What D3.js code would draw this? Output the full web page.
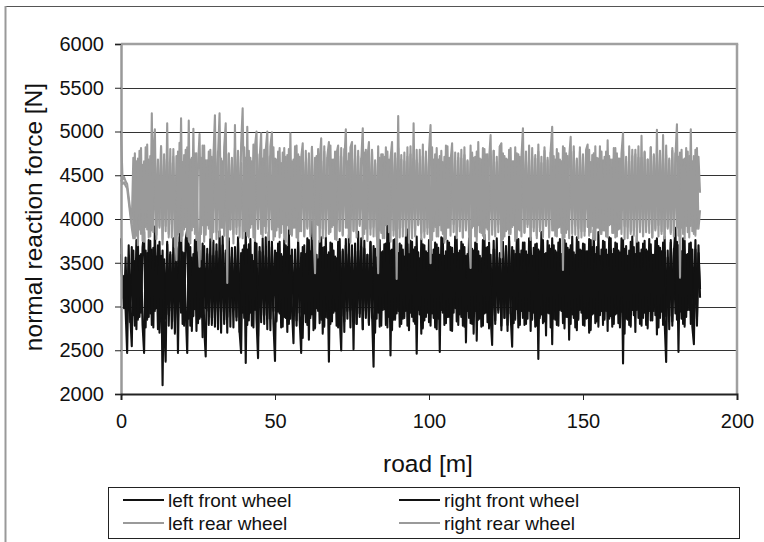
<!DOCTYPE html>
<html>
<head>
<meta charset="utf-8">
<script src="https://cdn.jsdelivr.net/npm/d3@7"></script>
<style>
  body { margin: 0; background: #fff; }
  svg { display: block; font-family: "Liberation Sans", Arial, sans-serif; }
</style>
</head>
<body>
<div id="chart"></div>
<script>
// --- Data (one sample every 0.5 m) ---
const sampleStep = 0.5; // road distance between samples [m]

const leftFront = [
  3780,3100,3350,2950,2470,3560,2820,3680,2900,3520,2740,3720,2880,3600,2790,2470,3640,2850,3760,2920,
  3650,2760,3913,2980,3700,2700,3580,2100,3540,2860,3740,2780,3620,2950,3500,2690,3680,2840,3790,3920,
  2800,3610,2960,2470,3720,2780,3560,2890,3760,2720,3620,2860,3520,2650,3690,2980,3600,2790,3770,2870,
  3580,2770,3710,2940,3550,2700,3800,2850,3640,2700,3740,2990,3570,2760,3680,2880,3790,2710,3610,2930,
  3700,2354,3650,2840,3770,2780,3520,2960,3720,2660,3630,2820,3780,2900,3580,2740,3850,2860,3680,2800,
  2377,3610,2940,3740,2760,3570,2880,3700,2710,3880,2860,3650,2970,3540,2780,3750,2850,2470,3680,2920,
  3600,2790,3760,2870,3970,2730,3640,2980,3540,2810,3790,2690,3680,2880,3590,2370,3730,2830,3640,2950,
  3550,2760,3770,2890,3630,2710,3700,2860,3820,2960,3570,2510,3720,2800,3640,2880,3780,2740,3660,2950,
  3590,2790,3740,2870,3690,2700,3560,2930,3760,2780,3630,2970,3720,2760,3860,2440,3650,2850,3770,2920,
  3610,2770,3700,2860,3570,2950,3880,2730,3750,2880,3650,2800,3800,2960,3550,2690,3710,2840,3630,2930,
  3760,2780,3590,2870,3730,2740,3670,2480,3790,2930,3580,2810,3750,2880,3680,2720,3600,2980,3770,2790,
  3640,2880,3710,2770,3580,2950,3780,2810,3660,2690,3730,2610,3630,2860,3550,2780,3820,2930,3680,2750,
  3590,2900,3750,2800,3650,2960,3560,2730,3740,2870,3690,2790,3800,2900,2540,3640,2850,3770,2760,3600,
  2950,3730,2790,3630,2860,3780,2720,3580,2930,3710,2780,3650,2870,3850,2810,3600,2670,3750,2920,3660,
  2570,3700,2850,3620,2780,3770,2950,3570,2750,3720,2880,3650,2800,3800,2870,3590,2730,3740,2960,3640,
  2790,3710,2860,3630,2700,3760,2910,3874,2810,3680,2770,3580,2950,3750,2850,3650,2720,3790,2890,3600,
  2800,3730,2920,3640,2760,3780,2350,3660,2860,3580,2790,3740,2960,3680,2710,3810,2870,3610,2780,3720,
  2930,3650,2750,3770,2840,3590,2950,3750,2680,3690,2870,3630,2790,3800,2890,3560,2740,3730,2830,3660,
  2920,3740,2480,3640,2860,3780,2770,3590,2960,3720,2800,3650,2880,3760,2780,3610,3200
];

const rightFront = [
  3600,3200,2980,3560,2820,3700,2900,2545,3640,2780,3760,2850,3580,2930,3680,3855,2760,3610,2880,3750,
  2790,3670,2950,3570,2740,3740,2870,3640,2800,2370,3710,2910,3590,2750,3780,2830,3660,2470,3730,2930,
  3620,2780,3760,3880,2860,3680,2720,3600,2970,3770,2810,3640,2880,3720,2760,2430,3660,2950,3580,2790,
  3750,2870,3630,2740,3860,2940,3700,2800,3610,2880,3780,2770,3670,2960,3560,2840,3730,2710,2470,3650,
  2870,3860,2790,3710,2930,3590,2760,3760,2850,2410,3680,2900,3620,2800,3790,2860,3560,2730,3740,2950,
  3640,2830,3720,2920,3600,2770,3770,2870,3680,2800,3580,2980,2580,3650,2840,3730,2930,3610,2640,3700,
  2820,3780,2620,3630,2910,3710,2750,3590,2950,3750,2850,3670,2770,3790,2870,3620,2800,3720,2930,3570,
  2780,3740,2880,2497,3650,2830,3770,2950,3600,2760,3700,2860,3630,2800,3855,2920,3680,2740,3750,2870,
  3590,2810,3730,2930,2312,3660,2860,3780,2770,3620,2960,3710,2790,3940,2880,3640,2730,3760,2850,3580,
  2950,3720,2800,3650,2870,3800,2780,3600,2930,3740,2830,3680,2460,3620,2910,3770,2750,3700,2880,3610,
  2820,3750,2920,3650,2760,3710,2860,3590,2960,3780,2790,3630,2880,3730,2730,3670,2930,3800,2830,3610,
  2910,3740,2780,3680,2590,3600,2870,3790,2800,3640,2950,3720,2850,3580,2770,3760,2920,3670,2820,3730,
  2880,2560,3650,2840,3780,2930,3610,2780,3710,2870,3630,2720,3750,2920,3680,2810,3600,2970,3770,2790,
  3640,2870,3730,2800,3590,2950,3790,2850,3670,2770,3720,2400,3630,2910,3760,2830,3610,2930,3700,2760,
  3780,2860,3640,2790,3730,2960,3600,2810,3760,2880,3670,2620,3700,2910,3620,2760,3790,2850,3650,2930,
  3720,2780,3630,2870,3770,2730,3680,2920,3600,2830,3850,2900,3650,2790,3740,2950,3590,2860,3780,2770,
  3660,2910,3720,2810,3620,2940,3760,2690,3690,2850,3640,2770,3800,2900,3600,2960,3730,2800,3650,2870,
  3750,2790,3630,2950,3710,2840,3590,2900,3780,2760,3670,2940,3730,2830,2365,3640,2890,3760,2780,3610,
  3900,2850,3700,2940,3630,2800,3750,2880,3600,2960,3730,2770,2570,3650,2860,3700,3100
];

const leftRear = [
  5000,4450,4480,4430,4400,4250,4100,3950,4700,3780,4660,3700,4780,3830,4620,3740,4820,3880,4680,3800,
  5208,3850,4760,3770,4600,3920,4830,3710,4680,3860,5094,3790,4640,3940,4800,3680,4720,3820,4870,3750,
  4650,3880,4790,3800,5124,3720,4700,3910,4750,3760,4610,4970,3830,4840,3740,4670,3930,4770,3790,4710,
  3850,4830,3770,4730,5208,3900,4660,3810,4810,3270,4750,3880,4700,3720,5075,3830,4780,3920,4640,3780,
  4820,3860,5055,3790,4700,3940,4850,3750,4740,3890,4680,4980,3800,4790,3840,4710,3910,4830,4990,3760,
  4690,3870,4770,3790,4640,3940,4810,3730,4730,3890,4980,3810,4680,3900,4840,3750,4710,3860,4780,3800,
  4650,3910,4750,3830,4825,3770,4700,3940,4800,3740,4660,3890,4830,3800,4720,4880,3850,4680,3930,4770,
  3760,4720,3870,4810,3820,4650,5025,3900,4750,3730,4690,3860,4840,3790,4720,3940,4670,5037,3830,4790,
  3750,4700,3890,4770,3800,4640,3920,3380,4700,3840,4740,3780,4820,3940,4680,3740,4760,3870,4700,3820,
  5177,3790,4730,3900,4660,3810,4820,3730,4740,3890,4690,3800,4790,3940,4640,3770,4850,3860,4710,3830,
  4770,5075,3760,4680,3910,4810,3800,4720,3870,4650,3730,4840,3900,4700,3810,4780,3940,4670,3780,4750,
  3860,4690,3790,4820,3890,4660,3830,3440,4760,3920,4710,3750,4880,3850,4680,3810,4800,3900,4740,3760,
  4700,3870,4780,3800,4650,3940,4830,4865,3770,4720,3860,4680,3830,4810,3910,4660,3750,4750,3880,4710,
  3800,4790,3850,4670,3940,4840,3760,4720,3900,4690,3810,4770,3860,4640,3790,4820,3920,4700,3830,4780,
  5055,3870,4680,3800,4750,3910,4660,3417,4810,3840,4720,3780,4690,3940,4830,3820,4670,3890,4770,3790,
  4710,3860,4790,4850,3810,4650,3920,4750,3760,4700,3900,4830,3830,4670,3870,4770,3790,4720,3940,4680,
  3840,4810,3800,4690,3890,4750,4985,3770,4710,3910,4660,3830,4790,3870,4740,3740,4830,3900,4700,3810,
  4770,3850,4680,3940,4820,3790,4720,3890,5020,3800,4750,3860,4690,3780,4840,3910,4670,3830,4780,3870,
  4700,5082,3810,4760,3900,4680,3770,4810,3850,4720,3920,4660,3830,4790,3890,4710,4300
];

const rightRear = [
  4450,4400,4420,4380,4350,4200,4050,3900,3780,4750,3810,4690,3880,4810,3750,4660,3910,4850,3790,4720,
  3870,4780,5025,3820,4680,3900,4830,3770,4740,3920,4650,3830,4800,3790,4710,3890,3530,4770,3850,5151,
  3810,4730,3910,4820,3760,4680,3870,5030,3830,4750,3790,3455,4700,3930,4840,3820,4670,3890,4790,3750,
  4710,5185,3850,4770,3800,4690,3900,4820,5094,3770,4740,3880,4670,3830,4810,3910,4720,3790,4850,5265,
  3860,4700,3810,4780,3900,4660,3790,4830,5000,3890,4740,3830,4690,3920,4790,5000,3760,4720,3880,4820,
  3800,4680,3910,4810,3840,4760,3770,4710,3930,4800,3830,4660,3900,4830,3790,4740,3860,4700,4865,3810,
  4780,3890,4690,3800,4820,3850,3380,4720,3930,4670,4922,3780,4770,3880,4700,3830,4840,3910,4680,3770,
  4750,4840,3860,4710,3810,4800,3900,4660,3790,4820,4880,3870,4720,3840,4780,3920,4690,3770,4760,3890,
  4700,4880,3820,4790,3910,4670,3800,4830,3870,4740,3780,4710,3930,4770,3850,4690,4880,3810,4750,3315,
  4810,3890,4680,3800,4760,3910,4710,3830,4830,3780,5094,3870,4670,3930,4790,3840,4720,3790,4770,3900,
  4690,3495,4820,3860,4740,3800,4680,3930,4780,3830,4710,3770,4830,3900,4660,4865,3850,4760,3810,4700,
  3910,4790,3790,4730,3870,4670,3830,4840,3900,4700,3800,4770,3930,4690,3840,4810,3770,4740,3880,4680,
  4960,3820,4780,3910,4710,3850,4830,3560,4750,3800,4690,3880,4790,3830,4660,3930,4820,3780,4740,3870,
  4700,5037,3840,4770,3910,4680,3800,4810,3860,4730,3780,4850,3900,4710,3830,4780,3930,4670,3790,4760,
  3870,4720,3810,4800,3900,4680,3840,4830,3790,4750,3880,4700,4940,3830,4770,3920,4690,3780,4820,3860,
  4740,3810,4670,3910,4790,3850,4730,3770,4830,3900,4690,3830,4770,3870,4710,3800,4900,3930,4680,3840,
  4810,3790,4750,3880,4690,3830,4780,3920,4660,3780,4830,3860,4720,3810,4790,3900,4700,3850,4950,3800,
  4760,3910,4680,3840,4820,3790,4740,3870,4700,3930,4780,3830,4960,3780,4730,3890,4690,3850,4810,3800,
  4750,3900,4710,3330,4790,3830,4690,3920,4770,3790,5025,3860,4720,3810,4810,3890,4100
];

const seriesNames = ["left front wheel", "right front wheel", "left rear wheel", "right rear wheel"];
const seriesValues = [leftFront, rightFront, leftRear, rightRear];
const seriesColors = ["#121212", "#121212", "#9a9a9a", "#9a9a9a"];

const yTicks = [2000, 2500, 3000, 3500, 4000, 4500, 5000, 5500, 6000];
const xTicks = [0, 50, 100, 150, 200];

// --- Layout ---
const W = 764, H = 542;
const plot = { left: 121, top: 44, right: 737, bottom: 394 };

const svg = d3.select("#chart").append("svg")
  .attr("width", W)
  .attr("height", H);

// outer chart frame
svg.append("line")
  .attr("x1", 5).attr("x2", W).attr("y1", 6.5).attr("y2", 6.5)
  .attr("stroke", "#555").attr("stroke-width", 1);
svg.append("line")
  .attr("x1", 5.5).attr("x2", 5.5).attr("y1", 6).attr("y2", H)
  .attr("stroke", "#999").attr("stroke-width", 2);

// --- Scales ---
const xScale = d3.scaleLinear().domain([0, 200]).range([plot.left, plot.right]);
const yScale = d3.scaleLinear().domain([2000, 6000]).range([plot.bottom, plot.top]);

// --- Gridlines ---
svg.append("g")
  .selectAll("line")
  .data(yTicks.filter(v => v > 2000 && v < 6000))
  .enter()
  .append("line")
  .attr("x1", plot.left)
  .attr("x2", plot.right)
  .attr("y1", d => Math.round(yScale(d)) + 0.5)
  .attr("y2", d => Math.round(yScale(d)) + 0.5)
  .attr("stroke", "#333")
  .attr("stroke-width", 1);

// --- Series ---
const lineGen = d3.line()
  .x((d, i) => xScale(i * sampleStep))
  .y(d => yScale(d));

svg.append("g")
  .selectAll("path")
  .data(seriesValues)
  .enter()
  .append("path")
  .attr("d", d => lineGen(d))
  .attr("fill", "none")
  .attr("stroke", (d, i) => seriesColors[i])
  .attr("stroke-width", 2.1)
  .attr("stroke-linejoin", "round");

// plot frame: top and right in gray
svg.append("line")
  .attr("x1", plot.left).attr("x2", plot.right + 1.2)
  .attr("y1", plot.top).attr("y2", plot.top)
  .attr("stroke", "#a0a0a0").attr("stroke-width", 2.5);
svg.append("line")
  .attr("x1", plot.right).attr("x2", plot.right)
  .attr("y1", plot.top).attr("y2", plot.bottom)
  .attr("stroke", "#a0a0a0").attr("stroke-width", 2.5);

// --- Axes ---
const yAxis = d3.axisLeft(yScale)
  .tickValues(yTicks)
  .tickSize(6)
  .tickPadding(11)
  .tickFormat(d3.format("d"));

const yAxisG = svg.append("g")
  .attr("transform", `translate(${plot.left},0)`)
  .call(yAxis);
yAxisG.select(".domain").attr("stroke", "#999").attr("stroke-width", 2.5);
yAxisG.selectAll(".tick line").attr("stroke", "#222");
yAxisG.selectAll(".tick text")
  .attr("fill", "#111")
  .style("font-size", "20px")
  .style("font-family", "'Liberation Sans', Arial, sans-serif");

const xAxis = d3.axisBottom(xScale)
  .tickValues(xTicks)
  .tickSize(6)
  .tickPadding(14)
  .tickFormat(d3.format("d"));

const xAxisG = svg.append("g")
  .attr("transform", `translate(0,${plot.bottom})`)
  .call(xAxis);
xAxisG.select(".domain").attr("stroke", "#222").attr("stroke-width", 2);
xAxisG.selectAll(".tick line").attr("stroke", "#222");
xAxisG.selectAll(".tick text")
  .attr("fill", "#111")
  .style("font-size", "20px")
  .style("font-family", "'Liberation Sans', Arial, sans-serif");

// --- Axis titles ---
svg.append("text")
  .attr("x", 428)
  .attr("y", 472)
  .attr("text-anchor", "middle")
  .attr("fill", "#111")
  .style("font-size", "24.5px")
  .text("road [m]");

svg.append("text")
  .attr("transform", "translate(42,217) rotate(-90)")
  .attr("text-anchor", "middle")
  .attr("fill", "#111")
  .style("font-size", "24.5px")
  .text("normal reaction force [N]");

// --- Legend ---
const legend = svg.append("g");
legend.append("rect")
  .attr("x", 108.5).attr("y", 487.5)
  .attr("width", 631).attr("height", 51)
  .attr("fill", "#fff")
  .attr("stroke", "#222")
  .attr("stroke-width", 1);

const legendCols = [123, 399];
const legendRows = [500, 523];

const items = legend.selectAll(".item")
  .data(seriesNames)
  .enter()
  .append("g")
  .attr("class", "item")
  .attr("transform", (d, i) => `translate(${legendCols[i % 2]},${legendRows[Math.floor(i / 2)]})`);

items.append("line")
  .attr("x1", 0).attr("x2", 41)
  .attr("y1", 0).attr("y2", 0)
  .attr("stroke", (d, i) => seriesColors[i])
  .attr("stroke-width", 2);

items.append("text")
  .attr("x", 45)
  .attr("y", 0)
  .attr("dy", "0.36em")
  .attr("fill", "#111")
  .style("font-size", "19px")
  .text(d => d);
</script>
</body>
</html>
